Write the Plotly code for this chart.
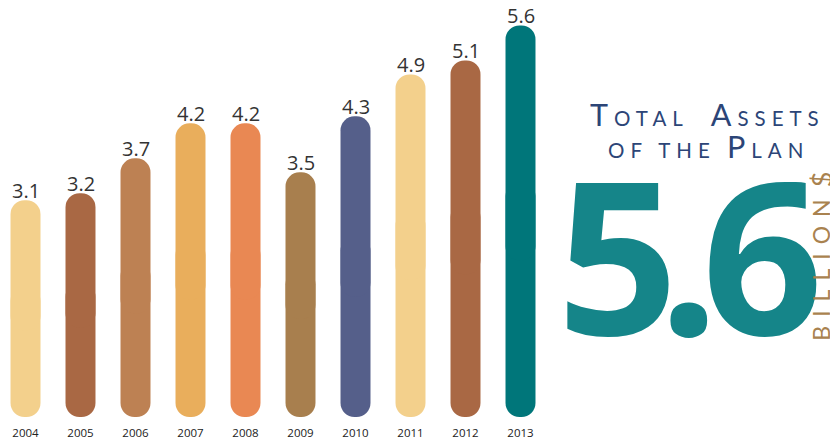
import plotly.graph_objects as go

years = ["2004", "2005", "2006", "2007", "2008", "2009", "2010", "2011", "2012", "2013"]
values = [3.1, 3.2, 3.7, 4.2, 4.2, 3.5, 4.3, 4.9, 5.1, 5.6]
colors = ["#f3d08c", "#a96844", "#bd8153", "#e9ae5c", "#e98853",
          "#a87f4e", "#555f8a", "#f3d08c", "#a96844", "#00767a"]
labels = [f"{v:.1f}" for v in values]
total_value = "5.6"

# page body has an 8px margin: figure coordinates = target - 8
OFF = 8
W, H = 830, 435
plot_bottom = 417.5 - OFF
px_per_unit = 70
bar_w = 0.545

fig = go.Figure()
fig.add_trace(go.Bar(
    x=years, y=[-v * 0.6 for v in values], base=[v * 0.6 for v in values],
    width=bar_w, marker=dict(color=colors, line=dict(width=0), cornerradius="50%"),
    hoverinfo="skip", showlegend=False))
fig.add_trace(go.Bar(
    x=years, y=[v * 0.6 for v in values], base=[v * 0.4 for v in values],
    width=bar_w, marker=dict(color=colors, line=dict(width=0), cornerradius="50%"),
    hoverinfo="skip", showlegend=False))

for i, (v, lab) in enumerate(zip(values, labels)):
    fig.add_annotation(x=i, y=v, xref="x", yref="y", text=lab, showarrow=False,
                       xanchor="center", yanchor="bottom", yshift=-6,
                       font=dict(family="Open Sans", size=20, color="#333333"))

x0 = 25.5 - OFF
fig.update_layout(
    width=W, height=H, barmode="overlay",
    margin=dict(l=0, r=0, t=0, b=H - plot_bottom),
    paper_bgcolor="white", plot_bgcolor="white",
    xaxis=dict(type="category", domain=[0, 550 / W], range=[-x0 / 55, 10 - x0 / 55],
               showgrid=False, zeroline=False, showline=False, ticks="", ticklabelstandoff=7,
               tickfont=dict(family="Open Sans", size=11.5, color="#222222")),
    yaxis=dict(range=[0, plot_bottom / px_per_unit], visible=False),
)

def px(x):
    return (x - OFF) / W

def py(y):
    return (plot_bottom - (y - OFF)) / plot_bottom

navy = "#2c4577"
tan = "#a9824f"
teal = "#158589"
cap = "<span style='font-size:30.5px'>{}</span>"
ls = "<span style='letter-spacing:6px'>{}</span>"
line1 = ls.format(cap.format("T") + "OTAL&nbsp;&nbsp;" + cap.format("A") + "SSETS")
line2 = ls.format("OF THE " + cap.format("P") + "LAN")
fig.add_annotation(x=px(707), y=py(134.2), xref="paper", yref="paper", text=line1,
                   showarrow=False, xanchor="center", yanchor="bottom",
                   font=dict(family="Lato", size=20.5, color=navy))
fig.add_annotation(x=px(708), y=py(166.2), xref="paper", yref="paper", text=line2,
                   showarrow=False, xanchor="center", yanchor="bottom",
                   font=dict(family="Lato", size=20.5, color=navy))

# big total, one glyph per annotation so the digits keep the reference spacing
big_font = dict(family="Noto Sans", size=212, color=teal, weight="bold")
for ch, cx in zip(total_value, [617, 689, 762]):
    fig.add_annotation(x=px(cx), y=py(253), xref="paper", yref="paper", text=ch,
                       showarrow=False, xanchor="center", yanchor="middle", font=big_font)

fig.add_annotation(x=px(821.5), y=py(266.5), xref="paper", yref="paper",
                   text="<span style='letter-spacing:9px'>BILLION</span>",
                   showarrow=False, xanchor="center", yanchor="middle", textangle=-90,
                   font=dict(family="Lato", size=23, color=tan))
fig.add_annotation(x=px(821.5), y=py(180), xref="paper", yref="paper", text="$",
                   showarrow=False, xanchor="center", yanchor="middle", textangle=-90,
                   font=dict(family="Lato", size=27, color=tan))

fig.write_html("out.html")
